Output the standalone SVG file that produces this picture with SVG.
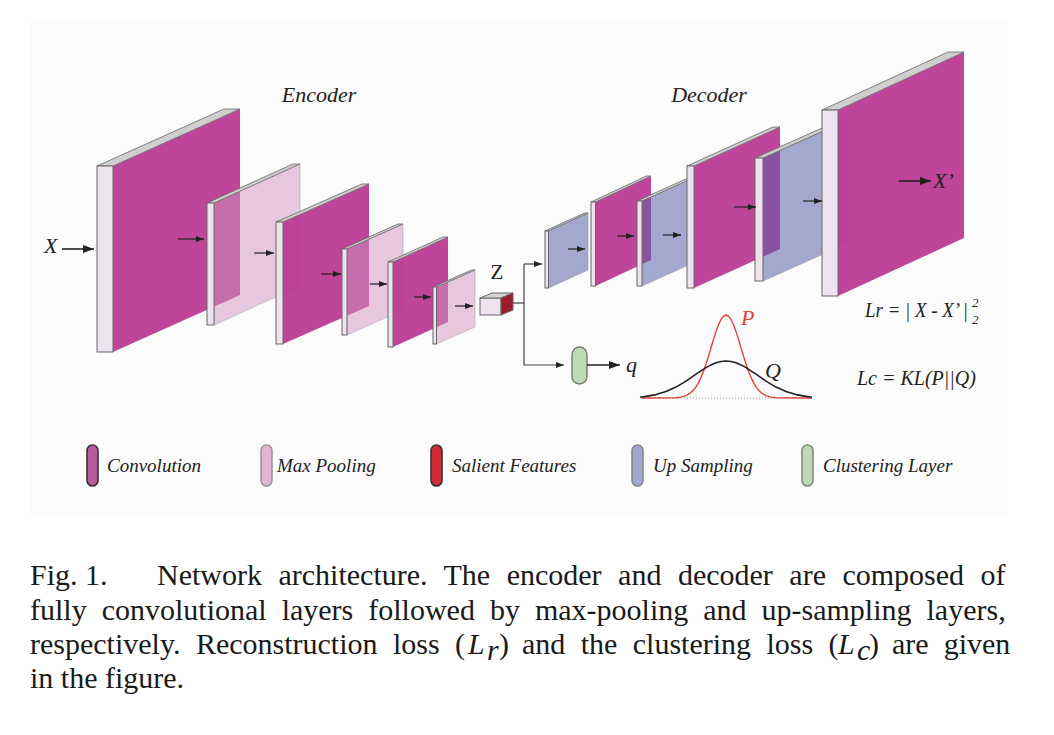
<svg xmlns="http://www.w3.org/2000/svg" width="1054" height="735" viewBox="0 0 1054 735">
<defs>
<style>
.slab{fill:#efe2ef;stroke:#666;stroke-width:1}
.bevel{fill:#cfcfcf;stroke:#666;stroke-width:0.8}
.conv{fill:#bb3b93;fill-opacity:0.95}
.pool{fill:#d393bf;fill-opacity:0.5;stroke:#aaa;stroke-width:0.6}
.up{fill:#595fa6;fill-opacity:0.53;stroke:#999;stroke-width:0.6}
.arr{stroke:#222;stroke-width:1.2;fill:none}
.arrb{stroke:#222;stroke-width:1.6;fill:none}
.con{stroke:#444;stroke-width:1.2;fill:none}
.serif{font-family:"Liberation Serif","Times New Roman",serif;fill:#222}
.ital{font-family:"Liberation Serif","Times New Roman",serif;font-style:italic;fill:#222}
.lg{font-size:19px}
.pill{stroke-width:1.6}
.cap{font-family:"Liberation Serif","Times New Roman",serif;font-size:30px;fill:#1a1a1a}
</style>
<marker id="ah" markerUnits="userSpaceOnUse" markerWidth="8" markerHeight="6" viewBox="0 0 8 6" refX="8" refY="3" orient="auto"><path d="M0,0 L8,3 L0,6 z" fill="#222"/></marker>
<marker id="ahb" markerUnits="userSpaceOnUse" markerWidth="11" markerHeight="8" viewBox="0 0 11 8" refX="11" refY="4" orient="auto"><path d="M0,0 L11,4 L0,8 z" fill="#222"/></marker>
</defs>
<rect x="31" y="21" width="977" height="494" fill="#fbfbfb"/>

<text class="ital" x="319" y="102" font-size="22" text-anchor="middle">Encoder</text>
<text class="ital" x="709" y="102" font-size="22" text-anchor="middle">Decoder</text>

<g id="enc1">
<polygon class="conv" points="113,166 240,109 240,295 113,352"/>
<polygon class="bevel" points="97,166 113,166 240,109 224,109"/>
<rect class="slab" x="97" y="166" width="16" height="186"/>
</g>
<g id="enc2">
<polygon class="pool" points="214,203 300,164 300,286 214,325"/>
<polygon class="bevel" points="207,203 214,203 300,164 293,164"/>
<rect class="slab" x="207" y="203" width="7" height="122"/>
</g>
<g id="enc3">
<polygon class="conv" points="283,222 369,184 369,306 283,344"/>
<polygon class="bevel" points="276,222 283,222 369,184 362,184"/>
<rect class="slab" x="276" y="222" width="7" height="122"/>
</g>
<g id="enc4">
<polygon class="pool" points="347,249 403,224 403,310 347,335"/>
<polygon class="bevel" points="342,249 347,249 403,224 398,224"/>
<rect class="slab" x="342" y="249" width="5" height="86"/>
</g>
<g id="enc5">
<polygon class="conv" points="393,262 448,237 448,322 393,347"/>
<polygon class="bevel" points="388,262 393,262 448,237 443,237"/>
<rect class="slab" x="388" y="262" width="5" height="85"/>
</g>
<g id="enc6">
<polygon class="pool" points="436.5,287 475,270 475,327 436.5,344"/>
<polygon class="bevel" points="433,287 436.5,287 475,270 471.5,270"/>
<rect class="slab" x="433" y="287" width="3.5" height="57"/>
</g>

<g id="z">
<rect x="480" y="298" width="21" height="17" fill="#efe2ef" stroke="#666" stroke-width="1"/>
<polygon points="480,298 501,298 513,293 492,293" fill="#d4d4d4" stroke="#666" stroke-width="1"/>
<polygon points="501,298 513,293 513,310 501,315" fill="#9b1d27" stroke="#666" stroke-width="1"/>
<text class="serif" x="497" y="279" font-size="21" text-anchor="middle">Z</text>
</g>

<g id="dec1">
<polygon class="up" points="548.5,231 588,213 588,270 548.5,288"/>
<polygon class="bevel" points="545,231 548.5,231 588,213 584.5,213"/>
<rect class="slab" x="545" y="231" width="3.5" height="57"/>
</g>
<g id="dec2">
<polygon class="conv" points="595.5,202 651,176 651,260 595.5,286"/>
<polygon class="bevel" points="591,202 595.5,202 651,176 646.5,176"/>
<rect class="slab" x="591" y="202" width="4.5" height="84"/>
</g>
<g id="dec3">
<polygon class="up" points="642,201 692,178.5 692,263.5 642,286"/>
<polygon class="bevel" points="637,201 642,201 692,178.5 687,178.5"/>
<rect class="slab" x="637" y="201" width="5" height="85"/>
</g>
<g id="dec4">
<polygon class="conv" points="694,166 780,127 780,249 694,288"/>
<polygon class="bevel" points="687,166 694,166 780,127 773,127"/>
<rect class="slab" x="687" y="166" width="7" height="122"/>
</g>
<g id="dec5">
<polygon class="up" points="763,158 848,120 848,243 763,281"/>
<polygon class="bevel" points="755,158 763,158 848,120 840,120"/>
<rect class="slab" x="755" y="158" width="8" height="123"/>
</g>
<g id="dec6">
<polygon class="conv" points="838,110 964,52 964,238 838,296"/>
<polygon class="bevel" points="822,110 838,110 964,52 948,52"/>
<rect class="slab" x="822" y="110" width="16" height="186"/>
</g>

<g id="cluster">
<rect x="572" y="347" width="15" height="37" rx="7.5" fill="#bcdcb4" stroke="#777" stroke-width="1.4"/>
</g>

<g id="connectors">
<line class="arrb" x1="62" y1="249" x2="94" y2="249" marker-end="url(#ahb)"/>
<line class="arr" x1="178" y1="239" x2="204" y2="239" marker-end="url(#ah)"/>
<line class="arr" x1="254" y1="253" x2="274" y2="253" marker-end="url(#ah)"/>
<line class="arr" x1="321" y1="274" x2="341" y2="274" marker-end="url(#ah)"/>
<line class="arr" x1="370" y1="284" x2="387" y2="284" marker-end="url(#ah)"/>
<line class="arr" x1="414" y1="297" x2="431" y2="297" marker-end="url(#ah)"/>
<line class="arr" x1="455" y1="306" x2="473" y2="306" marker-end="url(#ah)"/>
<line class="con" x1="513" y1="303" x2="524" y2="303"/>
<polyline class="con" points="524,264 524,365 564,365" marker-end="url(#ah)"/>
<line class="con" x1="524" y1="264" x2="542" y2="264" marker-end="url(#ah)"/>
<line class="arr" x1="568" y1="249" x2="585" y2="249" marker-end="url(#ah)"/>
<line class="arr" x1="617" y1="236" x2="634" y2="236" marker-end="url(#ah)"/>
<line class="arr" x1="663" y1="235" x2="681" y2="235" marker-end="url(#ah)"/>
<line class="arr" x1="734" y1="207" x2="756" y2="207" marker-end="url(#ah)"/>
<line class="arr" x1="803" y1="201" x2="822" y2="201" marker-end="url(#ah)"/>
<line class="arrb" x1="899" y1="181" x2="931" y2="181" marker-end="url(#ahb)"/>
<line class="arrb" x1="587" y1="365" x2="620" y2="365" marker-end="url(#ahb)"/>
</g>

<text class="ital" x="44" y="253" font-size="22">X</text>
<text class="ital" x="933" y="188" font-size="22">X’</text>
<text class="ital" x="626" y="372" font-size="22">q</text>

<g id="plot">
<line x1="642" y1="398" x2="812" y2="398" stroke="#999" stroke-width="1.2" stroke-dasharray="1,2"/>
<polyline fill="none" stroke="#e0443a" stroke-width="1.4" stroke-linejoin="round" points="642,398 676,397.7 681,397.1 686,395.7 691,392.6 693.5,390.1 696,386.9 698.5,382.6 701,377.4 703.5,371.2 706,364 708.5,356.1 711,347.8 713.5,339.4 716,331.6 718.5,324.8 721,319.5 723.5,316.2 726,315 728.5,316.2 731,319.5 733.5,324.8 736,331.6 738.5,339.4 741,347.8 743.5,356.1 746,364 748.5,371.2 751,377.4 753.5,382.6 756,386.9 758.5,390.1 761,392.6 766,395.7 771,397.1 776,397.7 812,398"/>
<polyline fill="none" stroke="#222" stroke-width="1.6" stroke-linejoin="round" points="640,397.2 646,396.4 656,394.6 666,391.6 676,387.1 686,381.1 696,374.2 706,367.6 711,364.9 716,362.8 721,361.5 726,361 731,361.5 736,362.8 741,364.9 746,367.6 756,374.2 766,381.1 776,387.1 786,391.6 796,394.6 806,396.4 812,397.2"/>
<text class="ital" x="741" y="325" font-size="22" style="fill:#e0443a">P</text>
<text class="ital" x="765" y="378" font-size="22">Q</text>
</g>

<text class="ital" x="865" y="317" font-size="20" textLength="103" lengthAdjust="spacingAndGlyphs">Lr = | X - X’ |</text>
<text class="ital" x="972" y="307" font-size="13">2</text>
<text class="ital" x="972" y="324" font-size="13">2</text>
<text class="ital" x="857" y="385" font-size="20">Lc = KL(P||Q)</text>

<g id="legend">
<rect class="pill" x="87" y="445" width="11" height="41" rx="5.5" fill="#b95aa0" stroke="#333"/>
<text class="ital lg" x="107" y="472">Convolution</text>
<rect class="pill" x="261" y="445" width="11" height="41" rx="5.5" fill="#e1b4d2" stroke="#999"/>
<text class="ital lg" x="277" y="472">Max Pooling</text>
<rect class="pill" x="431" y="445" width="11" height="41" rx="5.5" fill="#d22d37" stroke="#333"/>
<text class="ital lg" x="452" y="472">Salient Features</text>
<rect class="pill" x="632" y="445" width="11" height="41" rx="5.5" fill="#a0a8d2" stroke="#888"/>
<text class="ital lg" x="653" y="472">Up Sampling</text>
<rect class="pill" x="802" y="445" width="11" height="41" rx="5.5" fill="#bedcb4" stroke="#888"/>
<text class="ital lg" x="823" y="472">Clustering Layer</text>
</g>

<g id="caption">
<text class="cap" x="30" y="585">Fig. 1.</text>
<text class="cap" x="157" y="585" word-spacing="9">Network architecture. The encoder and decoder are composed of</text>
<text class="cap" x="30" y="620" word-spacing="7.5">fully convolutional layers followed by max-pooling and up-sampling layers,</text>
<text class="cap" x="30" y="654" word-spacing="7.9">respectively. Reconstruction loss (</text>
<text class="cap" x="468" y="654" font-style="italic">L</text>
<text class="cap" x="487" y="660" font-style="italic" font-size="19">r</text>
<text class="cap" x="499" y="654">)</text>
<text class="cap" x="522" y="654" word-spacing="7.9">and the clustering loss (</text>
<text class="cap" x="838" y="654" font-style="italic">L</text>
<text class="cap" x="857" y="660" font-style="italic" font-size="19">c</text>
<text class="cap" x="869" y="654">)</text>
<text class="cap" x="892" y="654" word-spacing="7.6">are given</text>
<text class="cap" x="30" y="688">in the figure.</text>
</g>
</svg>
